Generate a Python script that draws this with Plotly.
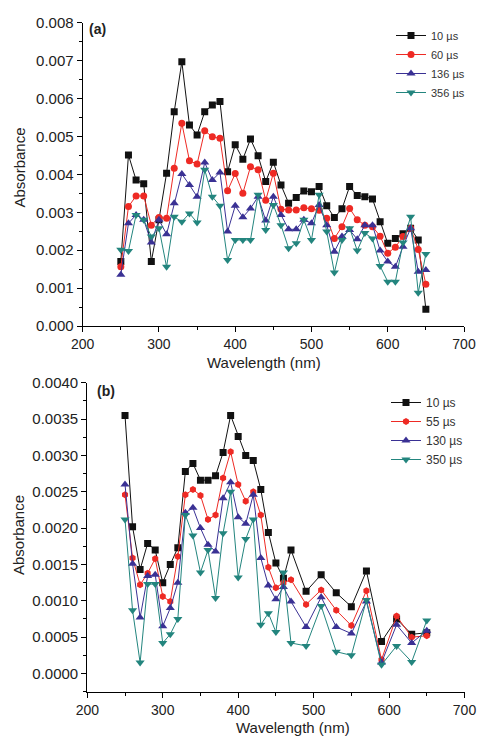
import plotly.graph_objects as go

W, H = 477, 736

# ---------------- data: panel (a) ----------------
wl_a = [250, 260, 270, 280, 290, 300, 310, 320, 330, 340, 350, 360, 370, 380, 390,
        400, 410, 420, 430, 440, 450, 460, 470, 480, 490, 500, 510, 520, 530, 540,
        550, 560, 570, 580, 590, 600, 610, 620, 630, 640, 650]
a_10us = [0.00170, 0.00451, 0.00385, 0.00375, 0.00170, 0.00280, 0.00403, 0.00565, 0.00697,
          0.00530, 0.00504, 0.00565, 0.00583, 0.00592, 0.00407, 0.00478, 0.00440, 0.00493,
          0.00449, 0.00381, 0.00432, 0.00372, 0.00324, 0.00339, 0.00356, 0.00354, 0.00368,
          0.00317, 0.00286, 0.00309, 0.00368, 0.00344, 0.00341, 0.00335, 0.00275, 0.00218,
          0.00231, 0.00243, 0.00258, 0.00227, 0.00044]
a_60us = [0.00156, 0.00315, 0.00343, 0.00343, 0.00266, 0.00286, 0.00284, 0.00416, 0.00535,
          0.00436, 0.00427, 0.00515, 0.00499, 0.00495, 0.00357, 0.00402, 0.00350, 0.00420,
          0.00412, 0.00332, 0.00403, 0.00308, 0.00306, 0.00306, 0.00312, 0.00309, 0.00305,
          0.00284, 0.00231, 0.00262, 0.00310, 0.00280, 0.00266, 0.00262, 0.00237, 0.00192,
          0.00208, 0.00236, 0.00258, 0.00202, 0.00110]
a_136us = [0.00135, 0.00271, 0.00293, 0.00280, 0.00220, 0.00280, 0.00242, 0.00324, 0.00401,
           0.00372, 0.00341, 0.00431, 0.00385, 0.00405, 0.00249, 0.00317, 0.00287, 0.00310,
           0.00341, 0.00278, 0.00341, 0.00293, 0.00255, 0.00255, 0.00280, 0.00271, 0.00319,
           0.00266, 0.00196, 0.00236, 0.00253, 0.00229, 0.00266, 0.00266, 0.00199, 0.00170,
           0.00156, 0.00209, 0.00258, 0.00143, 0.00148]
a_356us = [0.00201, 0.00198, 0.00293, 0.00280, 0.00236, 0.00258, 0.00156, 0.00288, 0.00275,
           0.00297, 0.00273, 0.00412, 0.00341, 0.00317, 0.00174, 0.00227, 0.00227, 0.00227,
           0.00346, 0.00253, 0.00319, 0.00266, 0.00205, 0.00218, 0.00280, 0.00227, 0.00346,
           0.00249, 0.00141, 0.00227, 0.00258, 0.00199, 0.00245, 0.00231, 0.00158, 0.00117,
           0.00117, 0.00220, 0.00288, 0.00088, 0.00190]
names_a = ["10 µs", "60 µs", "136 µs", "356 µs"]

# ---------------- data: panel (b) ----------------
wl_b = [250, 260, 270, 280, 290, 300, 310, 320, 330, 340, 350, 360, 370, 380, 390, 400,
        410, 420, 430, 440, 450, 460, 470, 490, 510, 530, 550, 570, 590, 610, 630, 650]
b_10us = [0.00355, 0.00202, 0.00143, 0.00179, 0.00170, 0.00125, 0.00150, 0.00173, 0.00278,
          0.00289, 0.00266, 0.00266, 0.00272, 0.00304, 0.00355, 0.00326, 0.00300, 0.00293,
          0.00253, 0.00194, 0.00152, 0.00131, 0.00170, 0.00113, 0.00136, 0.00111, 0.00092,
          0.00141, 0.00044, 0.00075, 0.00054, 0.00056]
b_55us = [0.00246, 0.00159, 0.00122, 0.00138, 0.00158, 0.00106, 0.00099, 0.00161, 0.00246,
          0.00253, 0.00245, 0.00212, 0.00218, 0.00269, 0.00305, 0.00260, 0.00237, 0.00250,
          0.00218, 0.00146, 0.00118, 0.00125, 0.00129, 0.00095, 0.00115, 0.00087, 0.00066,
          0.00114, 0.00019, 0.00079, 0.00050, 0.00052]
b_130us = [0.00260, 0.00151, 0.00077, 0.00134, 0.00136, 0.00065, 0.00090, 0.00125, 0.00221,
           0.00228, 0.00200, 0.00177, 0.00168, 0.00241, 0.00263, 0.00215, 0.00206, 0.00246,
           0.00159, 0.00121, 0.00102, 0.00119, 0.00099, 0.00064, 0.00105, 0.00064, 0.00055,
           0.00099, 0.00015, 0.00067, 0.00042, 0.00059]
b_350us = [0.00212, 0.00087, 0.00015, 0.00123, 0.00123, 0.00042, 0.00054, 0.00075, 0.00218,
           0.00190, 0.00139, 0.00170, 0.00104, 0.00193, 0.00250, 0.00132, 0.00185, 0.00212,
           0.00067, 0.00083, 0.00057, 0.00139, 0.00042, 0.00038, 0.00093, 0.00030, 0.00025,
           0.00101, 0.00012, 0.00038, 0.00016, 0.00073]
names_b = ["10 µs", "55 µs", "130 µs", "350 µs"]

# ---------------- styles ----------------
colors = ["#111111", "#EE2A24", "#3A3194", "#23857E"]
symbols_a = ["square", "circle", "triangle-up", "triangle-down"]
symbols_b = ["square", "hexagon", "triangle-up", "triangle-down"]
sizes = [7, 7, 8, 8]
FONT = "Liberation Sans, Arial, sans-serif"

def px_x(p):
    return p / W

def px_y(p):
    return 1 - p / H

fig = go.Figure()

for ser, name, c, s, sz in zip([a_10us, a_60us, a_136us, a_356us], names_a, colors, symbols_a, sizes):
    fig.add_trace(go.Scatter(x=wl_a, y=ser, name=name, mode="lines+markers",
                             line=dict(color=c, width=1),
                             marker=dict(symbol=s, size=sz, color=c),
                             xaxis="x", yaxis="y", legend="legend"))

for ser, name, c, s, sz in zip([b_10us, b_55us, b_130us, b_350us], names_b, colors, symbols_b, sizes):
    fig.add_trace(go.Scatter(x=wl_b, y=ser, name=name, mode="lines+markers",
                             line=dict(color=c, width=1),
                             marker=dict(symbol=s, size=sz, color=c),
                             xaxis="x2", yaxis="y2", legend="legend2"))

axis_common = dict(showline=True, linecolor="black", linewidth=1.2, mirror=False,
                   ticks="outside", ticklen=5, tickwidth=1.2, tickcolor="black",
                   showgrid=False, zeroline=False, automargin=False,
                   ticklabeloverflow="allow")
yfont = dict(size=15, family=FONT, color="#222222")
xfont = dict(size=14, family=FONT, color="#222222")
minor_x = dict(dtick=50, ticks="outside", ticklen=3, tickwidth=1.2, tickcolor="black", showgrid=False)

fig.update_layout(
    width=W, height=H,
    margin=dict(l=0, r=0, t=0, b=0),
    paper_bgcolor="white", plot_bgcolor="white",
    font=dict(family=FONT, color="#222222"),
    xaxis=dict(domain=[px_x(82.7), px_x(464.0)], anchor="y", range=[200, 700],
               tick0=0, dtick=100, minor=minor_x, tickfont=xfont, **axis_common),
    yaxis=dict(domain=[px_y(326), px_y(22.7)], anchor="x", range=[0, 0.008],
               tick0=0, dtick=0.001, tickformat=".3f", tickfont=yfont,
               minor=dict(dtick=0.0005, ticks="outside", ticklen=3, tickwidth=1.2, tickcolor="black", showgrid=False),
               **axis_common),
    xaxis2=dict(domain=[px_x(87.3), px_x(464.5)], anchor="y2", range=[200, 700],
                tick0=0, dtick=100, minor=minor_x, tickfont=xfont, **axis_common),
    yaxis2=dict(domain=[px_y(691.7), px_y(382.7)], anchor="x2", range=[-0.00025, 0.0040],
                tick0=0, dtick=0.0005, tickformat=".4f", tickfont=yfont,
                minor=dict(dtick=0.00025, ticks="outside", ticklen=3, tickwidth=1.2, tickcolor="black", showgrid=False),
                **axis_common),
    legend=dict(x=px_x(391), y=px_y(21), xanchor="left", yanchor="top",
                bgcolor="rgba(0,0,0,0)", font=dict(size=11, family=FONT, color="#333333"),
                tracegroupgap=0),
    legend2=dict(x=px_x(386), y=px_y(388), xanchor="left", yanchor="top",
                 bgcolor="rgba(0,0,0,0)", font=dict(size=12, family=FONT, color="#333333"),
                 tracegroupgap=0),
    showlegend=True,
)

ann = [
    dict(text="<b>(a)</b>", x=px_x(87), y=px_y(29), xanchor="left", yanchor="middle", font=dict(size=14)),
    dict(text="<b>(b)</b>", x=px_x(95), y=px_y(391), xanchor="left", yanchor="middle", font=dict(size=14)),
    dict(text="Absorbance", x=px_x(18.5), y=px_y(168), textangle=-90, xanchor="center", yanchor="middle", font=dict(size=15)),
    dict(text="Wavelength (nm)", x=px_x(264), y=px_y(362), xanchor="center", yanchor="middle", font=dict(size=15)),
    dict(text="Absorbance", x=px_x(18), y=px_y(535), textangle=-90, xanchor="center", yanchor="middle", font=dict(size=15)),
    dict(text="Wavelength (nm)", x=px_x(293), y=px_y(727), xanchor="center", yanchor="middle", font=dict(size=15)),
]
for a in ann:
    a.update(xref="paper", yref="paper", showarrow=False)
fig.update_layout(annotations=ann)

fig.write_html("out.html",
               config={"displayModeBar": False},
               post_script="document.body.style.margin='0';document.body.style.overflow='hidden';")
